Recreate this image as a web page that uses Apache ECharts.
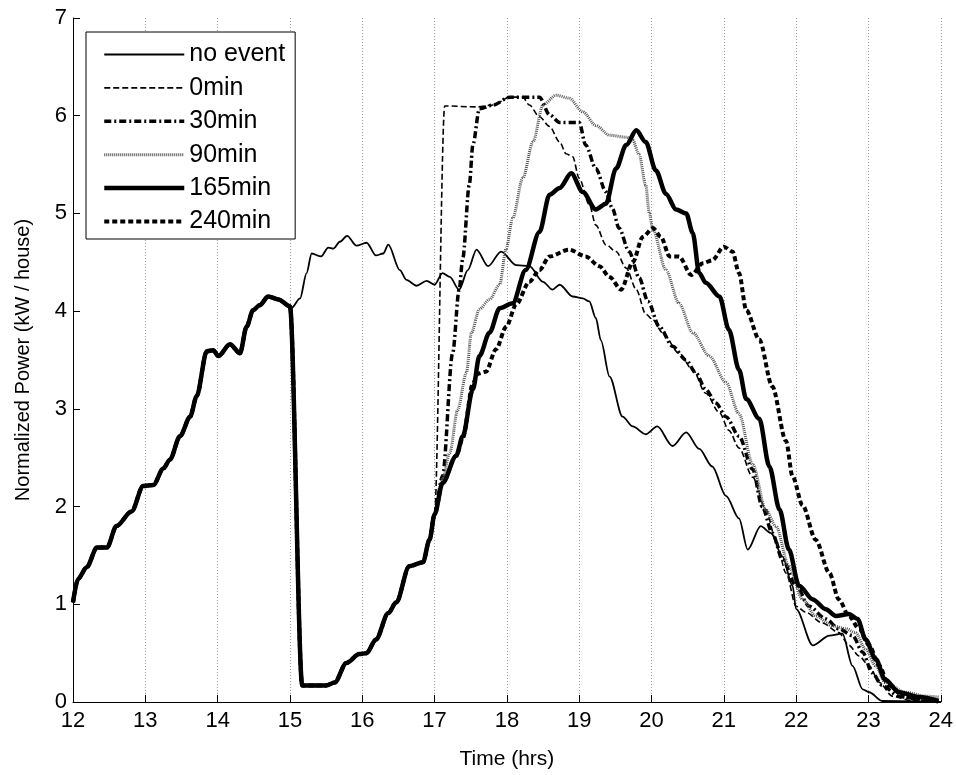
<!DOCTYPE html>
<html>
<head>
<meta charset="utf-8">
<script src="https://cdn.jsdelivr.net/npm/echarts@6/dist/echarts.min.js"></script>
<style>
  html, body { margin: 0; padding: 0; background: #fff; }
  #chart { width: 956px; height: 775px; }
</style>
</head>
<body>
<div id="chart"></div>
<script>
  // 12:00 - 15:00, same for every case
  var common = [[12.0,1.02],[12.07,1.26],[12.19,1.38],[12.33,1.58],[12.47,1.58],[12.60,1.80],[12.81,1.95],[12.97,2.21],[13.11,2.22],[13.25,2.39],[13.34,2.48],[13.48,2.72],[13.62,2.92],[13.71,3.13],[13.85,3.59],[13.94,3.60],[14.01,3.54],[14.17,3.66],[14.31,3.57],[14.40,3.84],[14.49,4.01],[14.58,4.06],[14.70,4.15],[14.84,4.12],[15.0,4.05]]
  // 15:00 - 17:00, all event cases
  var eventDip = [[15.17,0.17],[15.50,0.17],[15.62,0.20],[15.78,0.40],[15.96,0.49],[16.06,0.50],[16.19,0.64],[16.36,0.91],[16.47,1.02],[16.65,1.39],[16.84,1.43],[16.93,1.66],[17.0,1.92]]

  var noEvent = [[15.02,4.03],[15.14,4.13],[15.23,4.39],[15.30,4.59],[15.43,4.56],[15.53,4.65],[15.60,4.64],[15.69,4.71],[15.79,4.77],[15.92,4.67],[16.06,4.70],[16.19,4.57],[16.29,4.59],[16.36,4.68],[16.52,4.42],[16.61,4.32],[16.75,4.26],[16.89,4.31],[17.0,4.27],[17.11,4.39],[17.21,4.35],[17.34,4.22],[17.46,4.42],[17.58,4.63],[17.74,4.46],[17.92,4.61],[18.13,4.47],[18.31,4.46],[18.50,4.30],[18.63,4.22],[18.73,4.27],[18.91,4.15],[19.05,4.13],[19.14,4.10],[19.23,3.93],[19.30,3.70],[19.42,3.33],[19.60,2.92],[19.74,2.82],[19.92,2.74],[20.08,2.82],[20.29,2.62],[20.48,2.76],[20.66,2.59],[20.84,2.41],[21.03,2.11],[21.21,1.88],[21.33,1.56],[21.51,1.80],[21.65,1.73],[21.81,1.49],[21.95,1.19],[22.0,0.95],[22.23,0.58],[22.46,0.68],[22.64,0.70],[22.78,0.37],[22.92,0.13],[23.01,0.10],[23.19,0.01],[24.0,0]]
  var min0 = [[17.14,6.10],[17.58,6.09],[17.81,6.11],[18.04,6.19],[18.22,6.19],[18.31,6.11],[18.45,5.99],[18.59,5.89],[18.73,5.73],[18.82,5.61],[18.91,5.58],[19.0,5.36],[19.14,5.09],[19.23,4.88],[19.37,4.68],[19.51,4.61],[19.65,4.44],[19.79,4.22],[19.92,3.97],[20.02,3.91],[20.15,3.78],[20.38,3.57],[20.57,3.40],[20.75,3.16],[20.94,2.96],[21.07,2.78],[21.21,2.60],[21.40,2.30],[21.58,1.97],[21.72,1.66],[21.86,1.32],[22.0,0.98],[22.13,0.92],[22.36,0.81],[22.59,0.71],[22.73,0.58],[22.87,0.47],[23.01,0.37],[23.15,0.20],[23.33,0.06],[23.61,0.01],[24.0,0]]
  var min30 = [[17.11,2.31],[17.25,3.57],[17.34,4.22],[17.39,4.54],[17.48,5.29],[17.53,5.70],[17.62,6.07],[17.81,6.11],[18.04,6.19],[18.45,6.19],[18.59,6.01],[18.73,5.93],[19.0,5.93],[19.09,5.70],[19.23,5.46],[19.37,5.22],[19.46,5.05],[19.55,4.85],[19.69,4.61],[19.83,4.34],[19.95,4.10],[20.11,3.84],[20.29,3.64],[20.48,3.50],[20.61,3.37],[20.75,3.20],[20.89,3.06],[21.03,2.92],[21.21,2.72],[21.40,2.38],[21.53,2.00],[21.67,1.73],[21.81,1.46],[22.0,1.19],[22.18,0.98],[22.41,0.85],[22.59,0.75],[22.78,0.68],[22.92,0.51],[23.05,0.30],[23.19,0.17],[23.42,0.06],[23.79,0.01],[24.0,0]]
  var min90 = [[17.11,2.28],[17.21,2.55],[17.32,2.99],[17.44,3.37],[17.51,3.78],[17.62,4.02],[17.76,4.12],[17.90,4.27],[17.99,4.64],[18.08,4.95],[18.22,5.36],[18.36,5.73],[18.50,6.11],[18.68,6.21],[18.86,6.18],[19.05,6.04],[19.23,5.90],[19.42,5.80],[19.65,5.78],[19.74,5.75],[19.83,5.60],[19.92,5.29],[19.97,5.00],[20.02,4.83],[20.20,4.42],[20.38,4.08],[20.57,3.78],[20.80,3.54],[21.03,3.27],[21.21,2.95],[21.40,2.43],[21.58,1.97],[21.72,1.80],[21.90,1.39],[22.09,1.05],[22.27,0.88],[22.50,0.78],[22.69,0.75],[22.82,0.71],[22.96,0.54],[23.10,0.37],[23.23,0.20],[23.51,0.10],[23.79,0.06],[23.97,0.05]]
  var min165 = [[17.11,2.24],[17.30,2.52],[17.39,2.72],[17.53,3.20],[17.62,3.54],[17.76,3.78],[17.90,4.03],[18.08,4.08],[18.26,4.42],[18.45,4.81],[18.59,5.19],[18.73,5.26],[18.89,5.41],[19.05,5.22],[19.23,5.04],[19.37,5.10],[19.51,5.46],[19.65,5.70],[19.79,5.85],[19.92,5.73],[20.06,5.44],[20.20,5.20],[20.34,5.04],[20.48,5.00],[20.57,4.80],[20.66,4.39],[20.75,4.29],[20.94,4.15],[21.07,3.81],[21.21,3.40],[21.31,3.10],[21.49,2.90],[21.63,2.41],[21.77,1.97],[21.90,1.56],[22.04,1.19],[22.23,1.05],[22.41,0.95],[22.55,0.88],[22.73,0.90],[22.85,0.85],[22.96,0.64],[23.10,0.44],[23.23,0.23],[23.42,0.10],[23.70,0.05],[23.97,0.01]]
  var min240 = [[17.11,2.24],[17.30,2.52],[17.39,2.70],[17.53,3.26],[17.60,3.36],[17.71,3.38],[17.85,3.61],[17.99,3.84],[18.13,4.07],[18.31,4.30],[18.45,4.42],[18.59,4.56],[18.86,4.63],[19.09,4.56],[19.28,4.46],[19.42,4.35],[19.58,4.22],[19.74,4.50],[19.88,4.76],[20.02,4.85],[20.13,4.76],[20.25,4.56],[20.38,4.56],[20.55,4.37],[20.71,4.49],[20.84,4.52],[21.0,4.66],[21.12,4.61],[21.21,4.39],[21.31,4.01],[21.49,3.71],[21.67,3.23],[21.86,2.67],[21.95,2.31],[22.09,2.01],[22.27,1.66],[22.46,1.32],[22.59,1.05],[22.73,0.88],[22.87,0.75],[23.01,0.58],[23.15,0.37],[23.28,0.17],[23.51,0.05],[23.88,0.01]]

  var names = ['no event', '0min', '30min', '90min', '165min', '240min']
  var font = "'Liberation Sans', Arial, Helvetica, sans-serif"

  function ev(tail) {
    return common.concat(eventDip, tail)
  }

  var myChart = echarts.init(document.getElementById('chart'), null, { renderer: 'canvas' })
  myChart.setOption({
    animation: false,
    backgroundColor: '#fff',
    grid: { left: 73, right: 15, top: 18, bottom: 72 },
    legend: {
      orient: 'vertical',
      left: 86,
      top: 32,
      itemWidth: 80,
      itemHeight: 14,
      itemGap: 8.4,
      itemTextGap: 11,
      padding: [10, 10, 5, 16],
      borderColor: '#000',
      borderWidth: 1,
      backgroundColor: '#fff',
      itemStyle: { opacity: 0 },
      textStyle: { fontSize: 25, color: '#000', fontFamily: font },
      data: [
        { name: 'no event', lineStyle: { width: 1.8 } },
        { name: '0min', lineStyle: { width: 1.6 } },
        { name: '30min', lineStyle: { width: 3.5 } },
        { name: '90min', lineStyle: { width: 3 } },
        { name: '165min', lineStyle: { width: 4.5 } },
        { name: '240min', lineStyle: { width: 4 } }
      ]
    },
    xAxis: {
      type: 'value',
      min: 12,
      max: 24,
      interval: 1,
      name: 'Time (hrs)',
      nameLocation: 'middle',
      nameGap: 47,
      nameTextStyle: { fontSize: 21, color: '#000', fontFamily: font },
      axisLine: { lineStyle: { color: '#000', width: 1 } },
      axisTick: { inside: true, length: 7, lineStyle: { color: '#000' } },
      axisLabel: { fontSize: 22, color: '#000', margin: 8, fontFamily: font },
      splitLine: { show: true, lineStyle: { color: '#999', type: [1, 2], width: 1 } }
    },
    yAxis: {
      type: 'value',
      min: 0,
      max: 7,
      interval: 1,
      name: 'Normalized Power (kW / house)',
      nameLocation: 'middle',
      nameGap: 40,
      nameTextStyle: { fontSize: 20, color: '#000', fontFamily: font },
      axisLine: { show: true, lineStyle: { color: '#000', width: 1 } },
      axisTick: { show: true, inside: true, length: 7, lineStyle: { color: '#000' } },
      axisLabel: { fontSize: 22, color: '#000', margin: 6, fontFamily: font },
      splitLine: { show: false }
    },
    series: [
      {
        name: names[0], type: 'line', symbol: 'none', smooth: 0.3, smoothMonotone: 'x',
        data: common.concat(noEvent),
        lineStyle: { color: '#000', width: 1.8 }
      },
      {
        name: names[1], type: 'line', symbol: 'none', smooth: 0.3, smoothMonotone: 'x',
        data: ev(min0),
        lineStyle: { color: '#000', width: 1.6, type: [6, 3] }
      },
      {
        name: names[2], type: 'line', symbol: 'none', smooth: 0.3, smoothMonotone: 'x',
        data: ev(min30),
        lineStyle: { color: '#000', width: 3.5, type: [7, 3, 2, 3] }
      },
      {
        name: names[3], type: 'line', symbol: 'none', smooth: 0.3, smoothMonotone: 'x',
        data: ev(min90),
        lineStyle: { color: '#555', width: 3, type: [1, 1] }
      },
      {
        name: names[5], type: 'line', symbol: 'none', smooth: 0.3, smoothMonotone: 'x',
        data: ev(min240),
        lineStyle: { color: '#000', width: 4, type: [5, 3] }
      },
      {
        name: names[4], type: 'line', symbol: 'none', smooth: 0.3, smoothMonotone: 'x',
        data: ev(min165),
        lineStyle: { color: '#000', width: 4.5 }
      }
    ]
  })
</script>
</body>
</html>
